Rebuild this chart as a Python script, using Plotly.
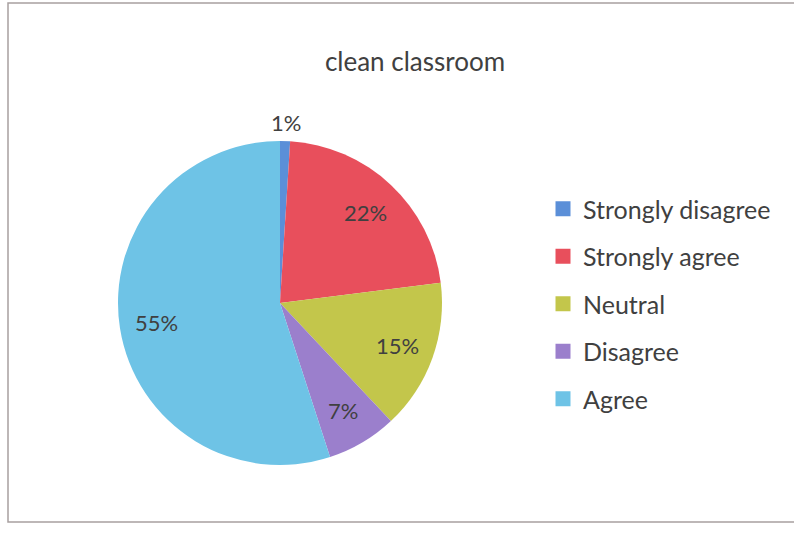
import math
import plotly.graph_objects as go

categories = ["Strongly disagree", "Strongly agree", "Neutral", "Disagree", "Agree"]
values = [1, 22, 15, 7, 55]
colors = ["#5b8fd8", "#e84f5c", "#c3c64b", "#9b7fcc", "#6ec3e6"]
label_outside = [True, False, False, False, False]
title_text = "clean classroom"

W, H = 794, 548
FONT = "Lato, Open Sans, sans-serif"
TXT = "#404040"

# pie geometry (pixels)
CX, CY, R = 280, 303, 162


def px(x):
    return x / W


def py(y):
    return 1 - y / H


fig = go.Figure()
fig.add_trace(go.Pie(
    labels=categories,
    values=values,
    marker=dict(colors=colors, line=dict(color="white", width=0)),
    sort=False,
    direction="clockwise",
    rotation=0,
    textinfo="none",
    domain=dict(x=[px(CX - R), px(CX + R)], y=[py(CY + R), py(CY - R)]),
    showlegend=False,
    hoverinfo="label+percent",
))

# percentage labels placed from the data's cumulative angles
total = sum(values)
annotations = []
cum = 0
for v, outside in zip(values, label_outside):
    mid = (cum + v / 2) / total * 2 * math.pi
    cum += v
    r = R + 19 if outside else 0.77 * R
    x = CX + r * math.sin(mid)
    y = CY - r * math.cos(mid)
    annotations.append(dict(
        x=px(x), y=py(y), xref="paper", yref="paper",
        text=f"{round(v / total * 100)}%", showarrow=False,
        xanchor="center", yanchor="middle",
        font=dict(family=FONT, size=22, color=TXT),
    ))

# legend entries (one per category)
for c, col in zip(categories, colors):
    fig.add_trace(go.Scatter(
        x=[None], y=[None], mode="markers",
        marker=dict(symbol="square", size=15, color=col),
        name=c, legendgroup=c, showlegend=True,
    ))

fig.update_layout(
    width=W, height=H,
    margin=dict(l=0, r=0, t=0, b=0),
    paper_bgcolor="white", plot_bgcolor="white",
    title=dict(text=title_text, x=px(415), xanchor="center", y=py(62), yanchor="middle",
               font=dict(family=FONT, size=26, color=TXT)),
    xaxis=dict(visible=False), yaxis=dict(visible=False),
    legend=dict(x=px(543), y=py(186), xanchor="left", yanchor="top",
                font=dict(family=FONT, size=25, color=TXT),
                tracegroupgap=12, itemsizing="trace", bgcolor="rgba(0,0,0,0)"),
    annotations=annotations,
    shapes=[dict(type="rect", xref="paper", yref="paper",
                 x0=px(8), x1=1.01, y0=py(522), y1=py(3),
                 line=dict(color="#a8a0a0", width=1.5), fillcolor="rgba(0,0,0,0)")],
)

fig.write_html("out.html", config={"displayModeBar": False},
               post_script="document.body.style.margin='0px';")
